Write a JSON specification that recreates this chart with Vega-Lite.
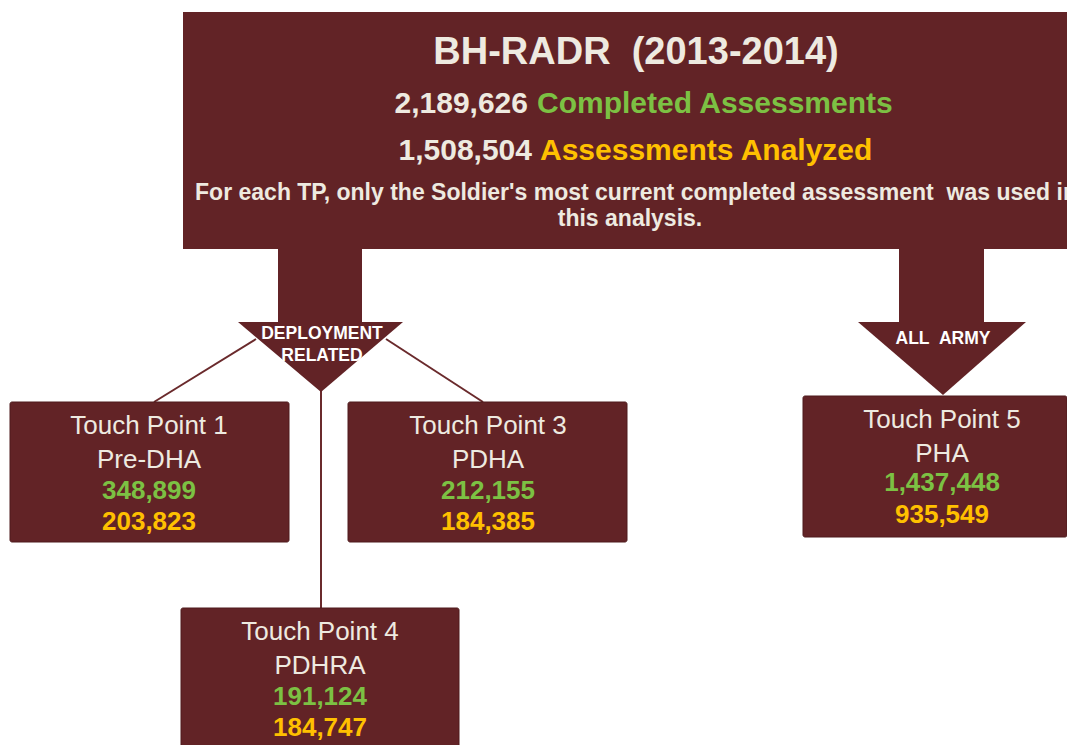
{
  "$schema": "https://vega.github.io/schema/vega-lite/v6.json",
  "width": 1067,
  "height": 745,
  "autosize": {"type": "fit", "contains": "padding"},
  "padding": 0,
  "background": "#ffffff",
  "config": {"view": {"stroke": null}, "text": {"font": "Arial"}},
  "datasets": {
    "boxes": [
      {"name": "header", "x": 183, "x2": 1067, "y": 12, "y2": 249},
      {"name": "stem1", "x": 278, "x2": 362, "y": 248, "y2": 323},
      {"name": "stem2", "x": 899, "x2": 984, "y": 248, "y2": 323}
    ],
    "tps": [
      {"name": "TP1", "x": 10, "x2": 289, "y": 402, "y2": 542},
      {"name": "TP3", "x": 348, "x2": 627, "y": 402, "y2": 542},
      {"name": "TP4", "x": 181, "x2": 459, "y": 608, "y2": 760},
      {"name": "TP5", "x": 803, "x2": 1067, "y": 396, "y2": 537}
    ],
    "triangles": [
      {"g": "deployment", "x": 238, "y": 322, "y2": 322},
      {"g": "deployment", "x": 321, "y": 322, "y2": 392},
      {"g": "deployment", "x": 403, "y": 322, "y2": 322},
      {"g": "army", "x": 858, "y": 322, "y2": 322},
      {"g": "army", "x": 943, "y": 322, "y2": 395},
      {"g": "army", "x": 1026, "y": 322, "y2": 322}
    ],
    "links": [
      {"x": 256, "y": 339, "x2": 154, "y2": 402},
      {"x": 386, "y": 339, "x2": 483, "y2": 402},
      {"x": 321, "y": 390, "x2": 321, "y2": 608}
    ],
    "texts": [
      {"kind": "title", "x": 636, "y": 64, "text": "BH-RADR \u00a0(2013-2014)"},
      {"kind": "headWhite", "x": 528, "y": 113, "text": "2,189,626"},
      {"kind": "headGreen", "x": 537, "y": 113, "text": "Completed Assessments"},
      {"kind": "headWhite", "x": 532, "y": 160, "text": "1,508,504"},
      {"kind": "headOrange", "x": 540, "y": 160, "text": "Assessments Analyzed"},
      {"kind": "note", "x": 636, "y": 200, "text": "For each TP, only the Soldier's most current completed assessment \u00a0was used in"},
      {"kind": "note", "x": 630, "y": 226, "text": "this analysis."},
      {"kind": "arrow", "x": 322, "y": 339, "text": "DEPLOYMENT"},
      {"kind": "arrow", "x": 322, "y": 361, "text": "RELATED"},
      {"kind": "arrow", "x": 943, "y": 344, "text": "ALL \u00a0ARMY"},
      {"kind": "boxLabel", "x": 149, "y": 434, "text": "Touch Point 1"},
      {"kind": "boxLabel", "x": 149, "y": 468, "text": "Pre-DHA"},
      {"kind": "boxGreen", "x": 149, "y": 499, "text": "348,899"},
      {"kind": "boxOrange", "x": 149, "y": 530, "text": "203,823"},
      {"kind": "boxLabel", "x": 488, "y": 434, "text": "Touch Point 3"},
      {"kind": "boxLabel", "x": 488, "y": 468, "text": "PDHA"},
      {"kind": "boxGreen", "x": 488, "y": 499, "text": "212,155"},
      {"kind": "boxOrange", "x": 488, "y": 530, "text": "184,385"},
      {"kind": "boxLabel", "x": 320, "y": 640, "text": "Touch Point 4"},
      {"kind": "boxLabel", "x": 320, "y": 674, "text": "PDHRA"},
      {"kind": "boxGreen", "x": 320, "y": 705, "text": "191,124"},
      {"kind": "boxOrange", "x": 320, "y": 736, "text": "184,747"},
      {"kind": "boxLabel", "x": 942, "y": 428, "text": "Touch Point 5"},
      {"kind": "boxLabel", "x": 942, "y": 462, "text": "PHA"},
      {"kind": "boxGreen", "x": 942, "y": 491, "text": "1,437,448"},
      {"kind": "boxOrange", "x": 942, "y": 523, "text": "935,549"}
    ]
  },
  "encoding": {
    "x": {"field": "x", "type": "quantitative", "axis": null, "scale": {"domain": [0, 1067], "nice": false, "zero": false}},
    "y": {"field": "y", "type": "quantitative", "axis": null, "scale": {"domain": [0, 745], "nice": false, "zero": false, "reverse": true}}
  },
  "layer": [
    {
      "data": {"name": "links"},
      "mark": {"type": "rule", "color": "#6a2a2c", "strokeWidth": 2, "clip": true},
      "encoding": {"x2": {"field": "x2"}, "y2": {"field": "y2"}}
    },
    {
      "data": {"name": "boxes"},
      "mark": {"type": "rect", "color": "#622326", "clip": true},
      "encoding": {"x2": {"field": "x2"}, "y2": {"field": "y2"}}
    },
    {
      "data": {"name": "triangles"},
      "mark": {"type": "area", "color": "#622326", "orient": "vertical", "clip": true},
      "encoding": {"y2": {"field": "y2"}, "detail": {"field": "g"}}
    },
    {
      "data": {"name": "tps"},
      "mark": {"type": "rect", "color": "#622326", "stroke": "#4e1a1c", "strokeWidth": 1, "cornerRadius": 2, "clip": true},
      "encoding": {"x2": {"field": "x2"}, "y2": {"field": "y2"}}
    },
    {
      "data": {"name": "texts"},
      "transform": [{"filter": "datum.kind === 'title'"}],
      "mark": {"type": "text", "font": "Arial", "fontWeight": "bold", "fontSize": 38, "color": "#eeeae0", "align": "center", "baseline": "alphabetic"},
      "encoding": {"text": {"field": "text"}}
    },
    {
      "data": {"name": "texts"},
      "transform": [{"filter": "datum.kind === 'headWhite'"}],
      "mark": {"type": "text", "font": "Arial", "fontWeight": "bold", "fontSize": 30, "color": "#eeeae0", "align": "right", "baseline": "alphabetic"},
      "encoding": {"text": {"field": "text"}}
    },
    {
      "data": {"name": "texts"},
      "transform": [{"filter": "datum.kind === 'headGreen'"}],
      "mark": {"type": "text", "font": "Arial", "fontWeight": "bold", "fontSize": 30, "color": "#7cc143", "align": "left", "baseline": "alphabetic"},
      "encoding": {"text": {"field": "text"}}
    },
    {
      "data": {"name": "texts"},
      "transform": [{"filter": "datum.kind === 'headOrange'"}],
      "mark": {"type": "text", "font": "Arial", "fontWeight": "bold", "fontSize": 30, "color": "#ffc000", "align": "left", "baseline": "alphabetic"},
      "encoding": {"text": {"field": "text"}}
    },
    {
      "data": {"name": "texts"},
      "transform": [{"filter": "datum.kind === 'note'"}],
      "mark": {"type": "text", "font": "Arial", "fontWeight": "bold", "fontSize": 23, "color": "#eeeae0", "align": "center", "baseline": "alphabetic", "clip": true},
      "encoding": {"text": {"field": "text"}}
    },
    {
      "data": {"name": "texts"},
      "transform": [{"filter": "datum.kind === 'arrow'"}],
      "mark": {"type": "text", "font": "Arial", "fontWeight": "bold", "fontSize": 17.5, "color": "#ffffff", "align": "center", "baseline": "alphabetic"},
      "encoding": {"text": {"field": "text"}}
    },
    {
      "data": {"name": "texts"},
      "transform": [{"filter": "datum.kind === 'boxLabel'"}],
      "mark": {"type": "text", "font": "Arial", "fontSize": 26, "color": "#eeeae0", "align": "center", "baseline": "alphabetic"},
      "encoding": {"text": {"field": "text"}}
    },
    {
      "data": {"name": "texts"},
      "transform": [{"filter": "datum.kind === 'boxGreen'"}],
      "mark": {"type": "text", "font": "Arial", "fontWeight": "bold", "fontSize": 26, "color": "#7cc143", "align": "center", "baseline": "alphabetic"},
      "encoding": {"text": {"field": "text"}}
    },
    {
      "data": {"name": "texts"},
      "transform": [{"filter": "datum.kind === 'boxOrange'"}],
      "mark": {"type": "text", "font": "Arial", "fontWeight": "bold", "fontSize": 26, "color": "#ffc000", "align": "center", "baseline": "alphabetic"},
      "encoding": {"text": {"field": "text"}}
    }
  ]
}
